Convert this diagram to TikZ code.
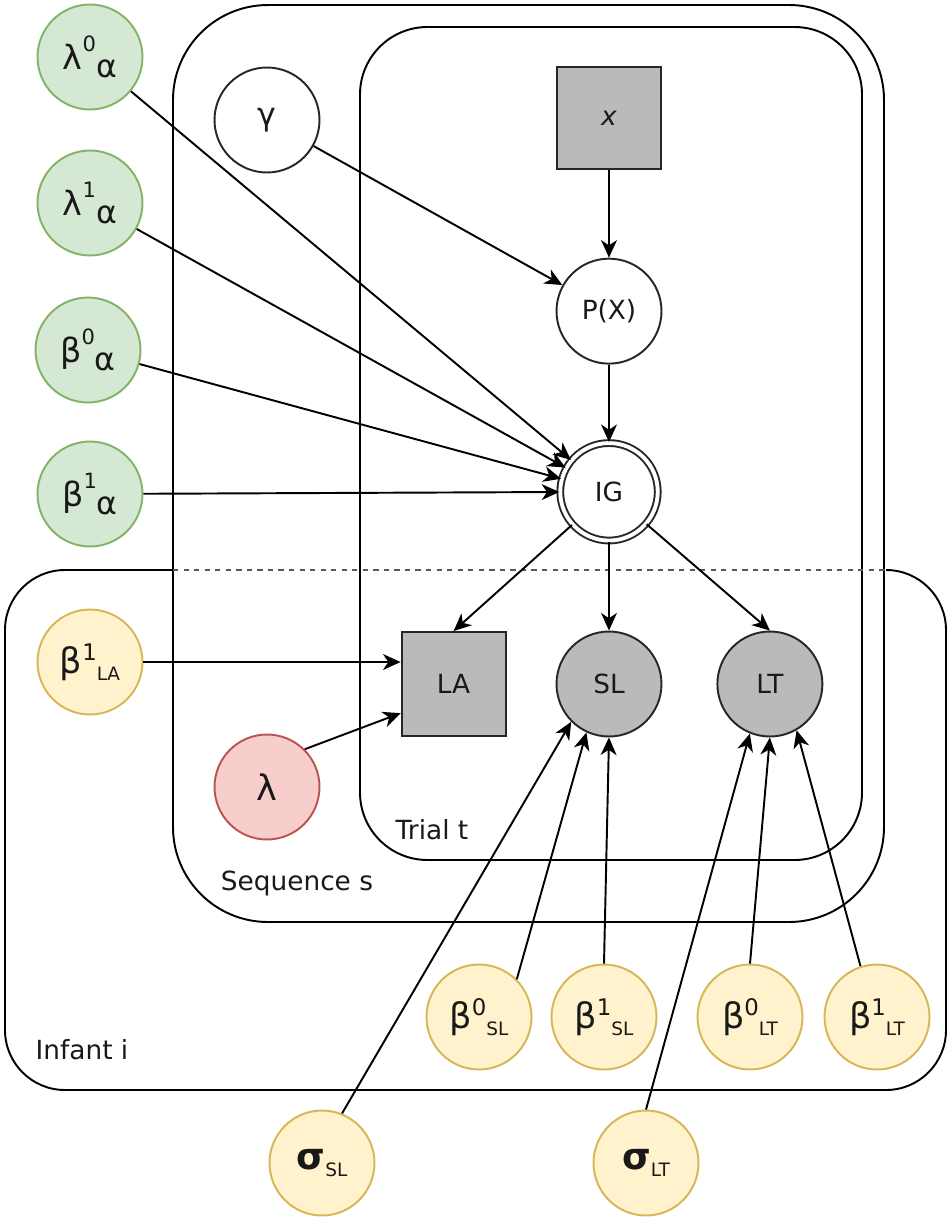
\documentclass[tikz,border=0pt]{standalone}
\usepackage{fontspec}
\setmainfont{DejaVu Sans}
\usetikzlibrary{arrows.meta,calc,positioning}

\definecolor{greenfill}{HTML}{D5E8D4}
\definecolor{greenline}{HTML}{82B366}
\definecolor{yellowfill}{HTML}{FFF2CC}
\definecolor{yellowline}{HTML}{D6B656}
\definecolor{redfill}{HTML}{F8CECC}
\definecolor{redline}{HTML}{B85450}
\definecolor{obsfill}{HTML}{BABABA}

% symbol with superscript and subscript side by side
\newcommand{\hyperpar}[3]{{\fontsize{19}{19}\selectfont #1}\raisebox{10pt}{\fontsize{12}{12}\selectfont #2}\raisebox{-4.5pt}{\fontsize{18}{18}\selectfont #3}}
\newcommand{\coefpar}[3]{{\fontsize{20}{20}\selectfont #1}\raisebox{7.5pt}{\fontsize{13}{13}\selectfont #2}\raisebox{-4pt}{\fontsize{10.5}{10.5}\selectfont #3}}
\newcommand{\sdpar}[2]{{\fontsize{21}{21}\selectfont\bfseries #1}\raisebox{-4pt}{\fontsize{10.5}{10.5}\selectfont #2}}

\begin{document}
\begin{tikzpicture}[x=0.02cm, y=-0.02cm, line width=1.1pt, >={Stealth[length=10pt,width=9pt,inset=3pt]},
  every node/.style={font=\fontsize{15}{18}\selectfont, text=black!90},
  latent/.style={circle, draw=black!85, fill=white, minimum size=2.1cm, inner sep=0pt},
  obsnode/.style={circle, draw=black!85, fill=obsfill, minimum size=2.1cm, inner sep=0pt},
  obsbox/.style={rectangle, draw=black!85, fill=obsfill, minimum width=2.08cm, minimum height=2.05cm, inner sep=0pt},
  greenpar/.style={circle, draw=greenline, fill=greenfill, minimum size=2.1cm, inner sep=0pt},
  yellowpar/.style={circle, draw=yellowline, fill=yellowfill, minimum size=2.1cm, inner sep=0pt},
  redpar/.style={circle, draw=redline, fill=redfill, minimum size=2.1cm, inner sep=0pt}]
\useasboundingbox (0,0) rectangle (950,1221);

% plates
\draw[rounded corners=1.9cm] (173,5) rectangle (884,922);
\draw[rounded corners=1.35cm] (360,27) rectangle (862,860);
\draw[rounded corners=1.2cm] (173,570) -- (5,570) -- (5,1090) -- (946,1090) -- (946,570) -- (886,570);
\draw[dashed, black!65] (173,570) -- (886,570);
\node (triallbl) at (432,830) {Trial t};
\node (seqlbl) at (297,883) {Sequence s};
\node (infantlbl) at (82,1050) {Infant i};

% nodes
\node[greenpar] (l0) at (90,57) {\hyperpar{λ}{0}{α}};
\node[greenpar] (l1) at (90,203) {\hyperpar{λ}{1}{α}};
\node[greenpar] (b0) at (88,350) {\hyperpar{β}{0}{α}};
\node[greenpar] (b1) at (90,494) {\hyperpar{β}{1}{α}};
\node[latent] (gamma) at (267,120) {\fontsize{18}{18}\selectfont γ};
\node[obsbox] (xobs) at (609,118) {\textit{x}};
\node[latent, below=1.75cm of xobs] (px) {P(X)};
\node[latent, double, double distance=2.2pt, minimum size=1.95cm, below=1.55cm of px] (ig) {IG};
\node[obsnode] (sl) at (609,684) {SL};
\node[obsbox, minimum height=2.08cm, left=0.98cm of sl] (la) {LA};
\node[obsnode, right=1.08cm of sl] (lt) {LT};
\node[yellowpar] (b1la) at (90,662) {\coefpar{β}{1}{LA}};
\node[redpar] (lam) at (267,787) {\fontsize{20}{20}\selectfont λ};
\node[yellowpar] (b0sl) at (479,1017) {\coefpar{β}{0}{SL}};
\node[yellowpar] (b1sl) at (604,1017) {\coefpar{β}{1}{SL}};
\node[yellowpar] (b0lt) at (750,1017) {\coefpar{β}{0}{LT}};
\node[yellowpar] (b1lt) at (877,1017) {\coefpar{β}{1}{LT}};
\node[yellowpar] (sigsl) at (322,1163) {\sdpar{σ}{SL}};
\node[yellowpar] (siglt) at (646,1163) {\sdpar{σ}{LT}};

% edges
\draw[->] (l0) -- (ig);
\draw[->] (l1) -- (ig);
\draw[->] (b0) -- (ig);
\draw[->] (b1) -- (ig);
\draw[->] (gamma) -- (px);
\draw[->] (xobs) -- (px);
\draw[->] (px) -- (ig);
\draw[->] (ig) -- (la.north);
\draw[->] (ig) -- (sl);
\draw[->] (ig) -- (lt.north);
\draw[->] (b1la) -- (la.west |- b1la);
\draw[->] (lam.45) -- ($(la.west)!0.55!(la.south west)$);
\draw[->] (sigsl.68) -- (sl.225);
\draw[->] (b0sl.45) -- (sl.245);
\draw[->] (b1sl.north) -- (sl.south);
\draw[->] (siglt.north) -- (lt.248);
\draw[->] (b0lt.north) -- (lt.south);
\draw[->] (b1lt.108) -- (lt.300);
\end{tikzpicture}
\end{document}
